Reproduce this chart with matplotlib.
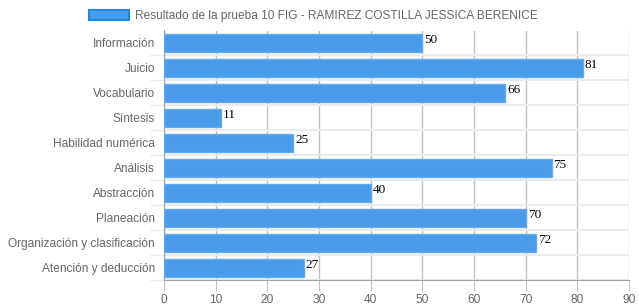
import matplotlib
matplotlib.use('Agg')
from matplotlib import pyplot as plt
from matplotlib.patches import Patch
import numpy as np

# Datos
categorias = ['Información', 'Juicio', 'Vocabulario', 'Síntesis', 'Habilidad numérica',
              'Análisis', 'Abstracción', 'Planeación', 'Organización y clasificación',
              'Atención y deducción']
valores = [50, 81, 66, 11, 25, 75, 40, 70, 72, 27]
serie = 'Resultado de la prueba 10 FIG - RAMIREZ COSTILLA JESSICA BERENICE'
ticks_x = list(range(0, 91, 10))

plt.rcParams['font.family'] = ['Liberation Sans', 'DejaVu Sans']

fig = plt.figure(figsize=(6.39, 3.08), dpi=100)
ax = fig.add_axes([164 / 639, 1 - 280 / 308, (629 - 164) / 639, (280 - 30.5) / 308])

y = np.arange(len(categorias))
alto = 0.72
ax.barh(y, valores, height=alto, color='#4a9be9', edgecolor='#62abef', linewidth=1, zorder=3)

for yi, v in zip(y, valores):
    ax.text(v + 0.4, yi - alto / 2 + 0.02, str(v), family='Liberation Serif', fontsize=9.5,
            color='black', va='top', ha='left', zorder=4)

ax.set_xlim(0, 90)
ax.set_ylim(len(categorias) - 0.5, -0.5)
ax.set_xticks(ticks_x)
ax.set_yticks(y)
ax.set_yticklabels(categorias)
ax.set_yticks(np.arange(0.5, len(categorias), 1), minor=True)

ax.tick_params(axis='y', which='major', length=0, pad=6.5, labelsize=8.6, labelcolor='#666666')
ax.tick_params(axis='y', which='minor', length=10, color='#ebebeb', width=1)
ax.tick_params(axis='x', length=8, color='#c0c0c0', labelsize=8.6, labelcolor='#666666', pad=2)

ax.grid(axis='x', color='#c0c0c0', linewidth=1, zorder=0)
ax.grid(axis='y', which='minor', color='#ebebeb', linewidth=1.5, zorder=0)

for s in ['top', 'right']:
    ax.spines[s].set_visible(False)
ax.spines['left'].set_color('#a0a0a0')
ax.spines['bottom'].set_color('#a0a0a0')

handle = Patch(facecolor='#4a9be9', edgecolor='#1e88e5', linewidth=1.5)
fig.legend([handle], [serie], loc='upper center', bbox_to_anchor=(0.4905, 1.0), frameon=False,
           fontsize=8.6, labelcolor='#666666', handlelength=3.3, handleheight=0.95,
           handletextpad=0.5, borderpad=0.35)

plt.savefig('out.png', dpi=100)
